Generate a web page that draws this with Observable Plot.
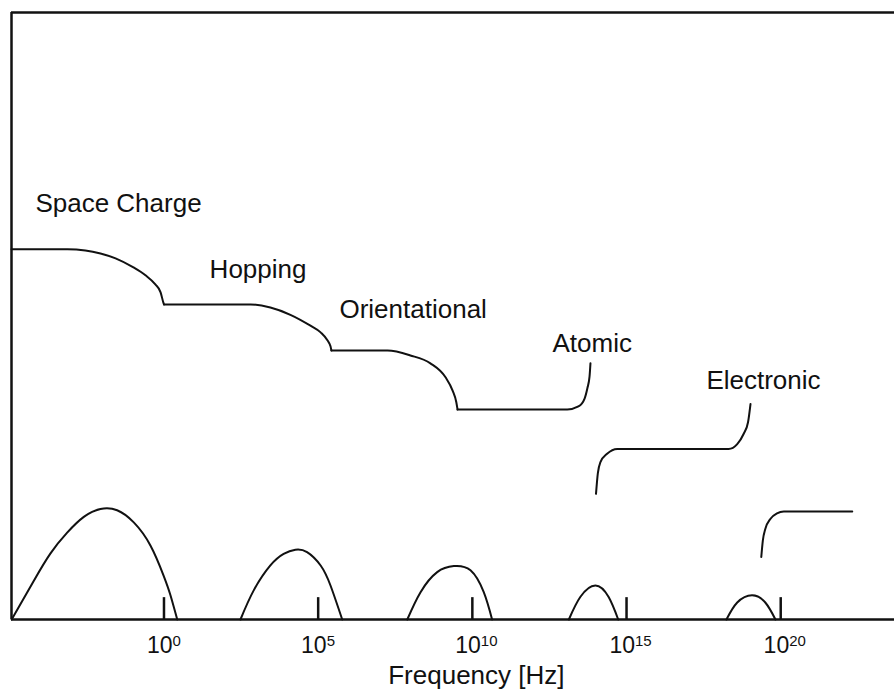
<!DOCTYPE html>
<html>
<head>
<meta charset="utf-8">
<script src="https://cdn.jsdelivr.net/npm/d3@7"></script>
<script src="https://cdn.jsdelivr.net/npm/@observablehq/plot@0.6"></script>
<style>
  html, body { margin: 0; padding: 0; background: #fff; }
  svg { display: block; }
</style>
</head>
<body>
<div id="chart"></div>
<script>
// ---- Data (x = log10 of frequency in Hz, y = arbitrary units, axis = 0, top = 100) ----
// Real part (permittivity steps), one segment per mechanism
const spaceChargeLogF = [-4.945, -3.13, -2.55, -2.06, -1.57, -0.99, -0.60, -0.28, -0.11, -0.02, 0.0];
const spaceChargeEps  = [61.0, 61.0, 60.8, 60.3, 59.5, 58.0, 56.7, 55.2, 53.9, 52.2, 51.9];

const hoppingLogF = [0.0, 2.81, 3.45, 4.10, 4.75, 5.08, 5.30, 5.40, 5.43];
const hoppingEps  = [51.9, 51.9, 51.4, 50.2, 48.4, 47.3, 46.0, 45.0, 44.3];

const orientationalLogF = [5.43, 7.25, 7.99, 8.64, 9.13, 9.36, 9.48, 9.52];
const orientationalEps  = [44.3, 44.3, 43.5, 42.2, 39.9, 37.7, 35.8, 34.6];

const atomicLogF = [9.52, 13.08, 13.44, 13.64, 13.73, 13.80, 13.83];
const atomicEps  = [34.6, 34.6, 35.1, 36.4, 38.1, 40.0, 42.2];

const electronicLogF = [14.01, 14.07, 14.15, 14.37, 14.70, 18.31, 18.59, 18.80, 18.94, 19.02];
const electronicEps  = [20.7, 24.1, 25.9, 27.3, 28.1, 28.1, 28.9, 30.6, 32.5, 35.5];

const highFreqLogF = [19.37, 19.42, 19.50, 19.67, 19.88, 20.10, 22.32];
const highFreqEps  = [10.3, 13.0, 14.9, 16.6, 17.5, 17.8, 17.8];

// Imaginary part (loss peaks)
const lossPeak1LogF = [-4.94, -4.22, -3.68, -3.14, -2.60, -2.06, -1.52, -0.98, -0.44, -0.01, 0.21, 0.43];
const lossPeak1Val  = [0, 6.4, 10.9, 14.3, 16.9, 18.2, 18.0, 16.0, 12.2, 7.2, 4.0, 0];

const lossPeak2LogF = [2.48, 2.91, 3.45, 3.88, 4.26, 4.64, 5.08, 5.40, 5.78];
const lossPeak2Val  = [0, 4.8, 8.9, 10.8, 11.5, 11.1, 8.9, 5.6, 0];

const lossPeak3LogF = [7.89, 8.32, 8.86, 9.40, 9.94, 10.37, 10.64];
const lossPeak3Val  = [0, 4.5, 7.8, 8.8, 8.1, 4.5, 0];

const lossPeak4LogF = [13.13, 13.50, 13.99, 14.42, 14.73];
const lossPeak4Val  = [0, 3.7, 5.6, 3.7, 0];

const lossPeak5LogF = [18.24, 18.59, 19.07, 19.50, 19.83];
const lossPeak5Val  = [0, 2.8, 4.0, 2.8, 0];

// Labels
const mechanismNames = ["Space Charge", "Hopping", "Orientational", "Atomic", "Electronic"];
const mechanismLabelLogF = [-4.17, 1.48, 5.69, 12.60, 17.59];
const mechanismLabelY    = [67.2, 56.3, 49.75, 44.15, 37.9];

// Axis ticks
const tickExponents = [0, 5, 10, 15, 20];
const xAxisTitle = "Frequency [Hz]";
const xAxisTitleLogF = 10.13;

// Axis range
const xMin = -4.945, xMax = 23.69;
const yMin = 0, yMax = 100;

// ---- Build tables ----
function toRows(xs, ys, name) { return xs.map((x, i) => ({x, y: ys[i], name})); }
const realRows = [
  ...toRows(spaceChargeLogF, spaceChargeEps, "space"),
  ...toRows(hoppingLogF, hoppingEps, "hopping"),
  ...toRows(orientationalLogF, orientationalEps, "orient"),
  ...toRows(atomicLogF, atomicEps, "atomic"),
  ...toRows(electronicLogF, electronicEps, "electronic"),
  ...toRows(highFreqLogF, highFreqEps, "high")
];
const lossRows = [
  ...toRows(lossPeak1LogF, lossPeak1Val, "p1"),
  ...toRows(lossPeak2LogF, lossPeak2Val, "p2"),
  ...toRows(lossPeak3LogF, lossPeak3Val, "p3"),
  ...toRows(lossPeak4LogF, lossPeak4Val, "p4"),
  ...toRows(lossPeak5LogF, lossPeak5Val, "p5")
];
const labelRows = mechanismNames.map((t, i) => ({text: t, x: mechanismLabelLogF[i], y: mechanismLabelY[i]}));

const FONT = "'Liberation Sans', Arial, Helvetica, sans-serif";
const INK = "#111";
const tickLen = 3.6;

const chart = Plot.plot({
  width: 894,
  height: 692,
  marginLeft: 11,
  marginRight: 0,
  marginTop: 12,
  marginBottom: 73,
  style: {fontFamily: FONT, background: "#fff"},
  x: {domain: [xMin, xMax], axis: null},
  y: {domain: [yMin, yMax], axis: null},
  marks: [
    // frame (top, bottom axis, left)
    Plot.ruleY([yMax], {stroke: INK, strokeWidth: 2.5}),
    Plot.ruleY([yMin], {stroke: INK, strokeWidth: 2.5}),
    Plot.ruleX([xMin], {y1: yMin, y2: yMax, stroke: INK, strokeWidth: 2.5}),
    // inward ticks
    Plot.ruleX(tickExponents, {y1: yMin, y2: tickLen, stroke: INK, strokeWidth: 2.5}),
    // curves
    Plot.line(realRows, {x: "x", y: "y", z: "name", curve: "monotone-x", stroke: INK, strokeWidth: 2}),
    Plot.line(lossRows, {x: "x", y: "y", z: "name", curve: "natural", stroke: INK, strokeWidth: 2}),
    // mechanism labels
    Plot.text(labelRows, {x: "x", y: "y", text: "text", textAnchor: "start", lineAnchor: "bottom",
      fontSize: 26, fill: INK, fontFamily: FONT}),
    // tick labels: "10" + superscript exponent
    Plot.text(tickExponents, {x: d => d, y: yMin, text: () => "10", textAnchor: "end", lineAnchor: "bottom",
      dx: 8.5, dy: 33, fontSize: 23, fill: INK, fontFamily: FONT}),
    Plot.text(tickExponents, {x: d => d, y: yMin, text: d => String(d), textAnchor: "start", lineAnchor: "bottom",
      dx: 8.5, dy: 26, fontSize: 15, fill: INK, fontFamily: FONT}),
    // axis title
    Plot.text([xAxisTitle], {x: xAxisTitleLogF, y: yMin, text: d => d, textAnchor: "middle", lineAnchor: "bottom",
      dy: 64, fontSize: 26, fill: INK, fontFamily: FONT})
  ]
});
document.getElementById("chart").appendChild(chart);
</script>
</body>
</html>
